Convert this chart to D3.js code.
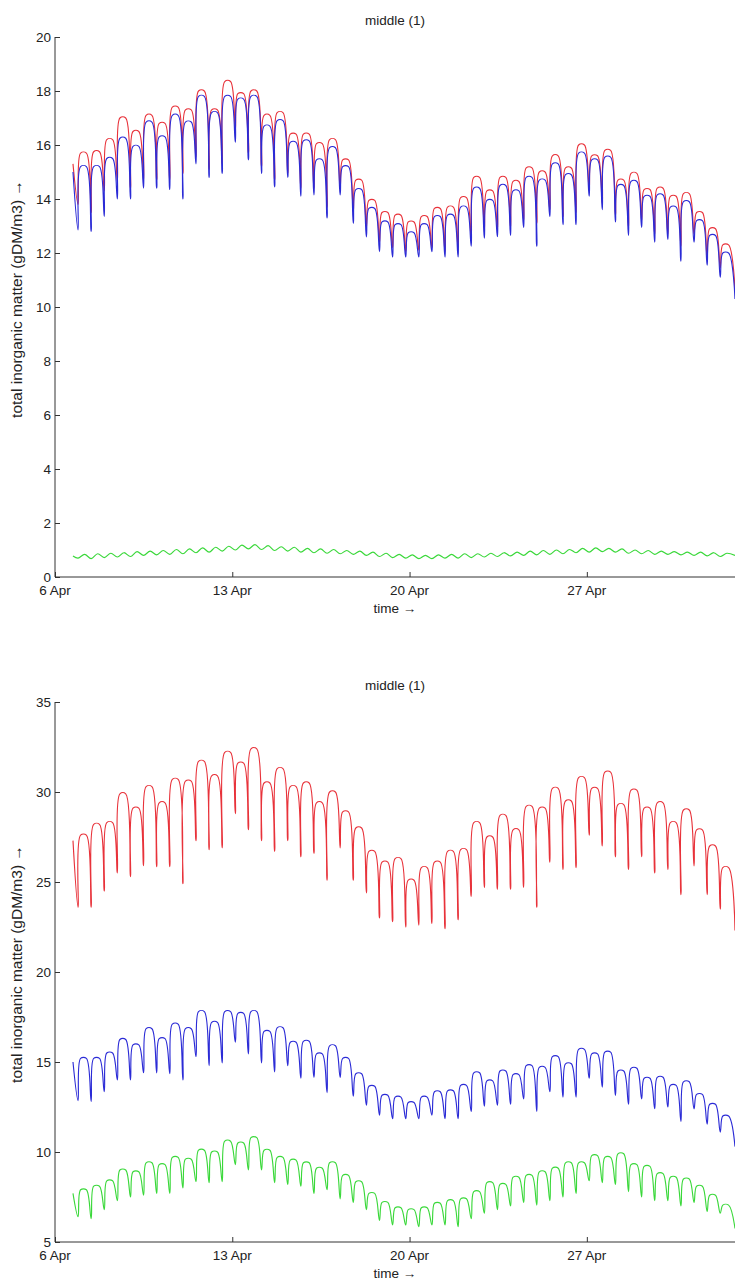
<!DOCTYPE html>
<html>
<head>
<meta charset="utf-8">
<script src="https://cdn.jsdelivr.net/npm/d3@7"></script>
<style>
  body { margin: 0; background: #fff; }
  svg { display: block; }
  text { font-family: "Liberation Sans", Arial, sans-serif; fill: #222; }
</style>
</head>
<body>
<div id="wall"></div>
<script>
// tick labels / categories
const xTickLabels = ["6 Apr", "13 Apr", "20 Apr", "27 Apr"];
const topTicks = [0, 2, 4, 6, 8, 10, 12, 14, 16, 18, 20];
const bottomTicks = [5, 10, 15, 20, 25, 30, 35];

// series: value at first sample, then low (ebb dip) and high of each tidal cycle, then value at right edge
const blueStart = 15.0, blueEnd = 10.3;
const blueLow = [12.85,12.8,13.35,14.0,14.0,14.4,14.4,14.35,14.0,15.3,14.8,14.95,16.1,15.45,14.95,14.45,14.8,14.1,14.15,13.3,
  14.15,13.1,12.6,12.05,11.85,11.85,11.85,12.05,11.85,11.85,12.25,12.55,12.6,12.65,12.95,12.25,13.35,13.05,13.05,14.1,
  13.6,13.15,12.65,12.95,12.4,12.5,11.7,12.4,11.55,11.1];
const blueHigh = [15.2,15.2,15.5,16.25,15.95,16.85,16.3,17.1,16.85,17.8,17.2,17.8,17.7,17.8,16.7,16.9,16.1,16.15,15.45,15.9,
  15.2,14.35,13.65,13.15,13.05,12.75,13.05,13.35,13.4,13.7,14.4,13.95,14.5,14.3,14.8,14.7,15.3,14.9,15.7,15.45,
  15.55,14.5,14.65,14.1,14.15,13.7,13.9,13.2,12.65,12.0];

const redTopStart = 15.3, redTopEnd = 10.6;
const redTopLow = [13.8,13.5,14.3,14.65,14.4,14.7,14.7,14.7,14.95,15.55,15.1,15.3,16.55,15.7,15.2,14.7,14.95,14.4,14.4,13.7,
  14.4,13.5,12.95,12.4,12.2,12.05,12.1,12.2,12.05,12.2,12.55,12.85,12.9,12.95,13.2,13.1,13.6,13.35,13.5,14.35,
  13.85,13.4,12.95,13.2,12.7,12.7,12.25,12.7,11.85,11.45];
const redTopHigh = [15.7,15.75,16.2,17.0,16.5,17.1,16.8,17.4,17.3,18.0,17.3,18.35,17.9,18.0,17.1,17.2,16.4,16.4,16.05,16.2,
  15.45,14.7,13.95,13.5,13.4,13.15,13.35,13.65,13.7,14.05,14.8,14.3,14.8,14.65,15.15,15.0,15.6,15.15,16.0,15.6,
  15.8,14.7,14.95,14.35,14.4,14.1,14.2,13.5,12.9,12.3];

const greenTopStart = 0.78, greenTopEnd = 0.8;
const greenTopLow = [0.70,0.68,0.72,0.74,0.76,0.80,0.82,0.84,0.86,0.90,0.92,0.96,1.00,1.04,1.02,0.98,0.96,0.92,0.90,0.88,
  0.86,0.84,0.80,0.76,0.72,0.70,0.68,0.68,0.70,0.70,0.72,0.74,0.76,0.78,0.80,0.82,0.84,0.86,0.90,0.92,
  0.94,0.92,0.88,0.86,0.84,0.84,0.82,0.80,0.78,0.76];
const greenTopHigh = [0.84,0.86,0.88,0.90,0.94,0.96,0.98,1.02,1.04,1.08,1.10,1.14,1.18,1.20,1.16,1.12,1.10,1.06,1.04,1.02,
  0.98,0.96,0.92,0.88,0.84,0.82,0.80,0.82,0.84,0.86,0.86,0.88,0.90,0.92,0.96,0.98,1.00,1.02,1.06,1.08,
  1.06,1.04,1.00,0.98,0.96,0.94,0.92,0.92,0.90,0.88];

const redBotStart = 27.3, redBotEnd = 22.3;
const redBotLow = [23.6,23.6,24.5,25.5,25.3,25.9,25.85,25.85,24.9,27.3,26.8,26.9,28.8,27.9,27.3,26.7,27.3,26.4,26.6,25.1,
  26.9,25.1,24.4,23.0,22.8,22.5,22.6,22.7,22.4,22.9,24.2,24.7,24.6,24.6,24.7,23.6,26.1,25.7,25.8,27.6,
  27.0,26.4,25.7,26.4,25.5,25.7,24.3,25.9,24.3,23.5];
const redBotHigh = [27.6,28.2,28.3,29.9,29.1,30.3,29.4,30.7,30.6,31.7,30.9,32.2,31.6,32.4,30.5,31.3,30.3,30.5,29.4,30.0,
  28.9,28.0,26.7,26.1,26.3,25.1,25.8,26.1,26.7,26.8,28.3,27.5,28.7,27.9,29.2,29.1,30.2,29.5,30.8,30.2,
  31.1,29.3,30.1,29.1,29.4,28.3,29.0,27.9,27.0,25.8];

const greenBotStart = 7.7, greenBotEnd = 5.75;
const greenBotLow = [6.4,6.3,6.8,7.3,7.5,7.6,7.7,7.7,8.0,8.35,8.3,8.35,9.3,9.0,9.0,8.3,8.2,8.1,7.7,7.9,
  7.4,7.2,6.8,6.2,5.95,5.95,5.85,5.95,5.95,5.85,6.3,6.6,6.8,7.0,7.2,7.05,7.3,7.5,7.7,8.4,
  8.3,8.2,7.8,7.5,7.3,7.3,7.0,7.2,6.7,6.6];
const greenBotHigh = [7.9,8.1,8.4,9.0,8.9,9.4,9.3,9.7,9.6,10.1,10.0,10.6,10.5,10.8,10.1,9.7,9.55,9.4,9.1,9.4,
  8.7,8.35,7.7,7.2,6.9,6.8,6.9,7.15,7.3,7.4,7.8,8.3,8.2,8.6,8.7,8.9,9.1,9.4,9.4,9.8,
  9.7,9.9,9.3,9.2,8.8,8.6,8.5,8.1,7.6,7.05];

// time grid (days after 6 Apr 00:00)
const firstSample = 0.71, firstDip = 0.91, tidePeriod = 0.5175, lastSample = 26.85;

const W = 735, H = 1282;
const left = 55, right = 735;
const fs = 13.5;
const t0 = Date.UTC(2007, 3, 6);
const day = 864e5;

const svg = d3.select("#wall").append("svg").attr("width", W).attr("height", H);

const x = d3.scaleUtc()
  .domain([new Date(t0), new Date(t0 + lastSample * day)])
  .range([left, right]);

function series(start, lows, highs, end, smooth) {
  const pts = [{t: firstSample, v: start}];
  lows.forEach((lo, i) => {
    const ti = firstDip + i * tidePeriod;
    pts.push({t: ti, v: lo});
    if (smooth) {
      pts.push({t: ti + 0.26, v: highs[i]});
    } else {
      pts.push({t: ti + 0.1, v: highs[i]});
      pts.push({t: ti + 0.33, v: highs[i]});
    }
  });
  pts.push({t: lastSample, v: end});
  return pts;
}

function panel(top, yDomain, ticks, lines) {
  const bottom = top + 540;
  const y = d3.scaleLinear().domain(yDomain).range([bottom, top]);
  const g = svg.append("g");

  const line = d3.line()
    .x(d => x(new Date(t0 + d.t * day)))
    .y(d => y(d.v))
    .curve(d3.curveCatmullRom.alpha(0.5));

  lines.forEach(l => {
    g.append("path")
      .datum(l.data)
      .attr("fill", "none")
      .attr("stroke", l.color)
      .attr("stroke-width", 1.15)
      .attr("stroke-linejoin", "round")
      .attr("d", line);
  });

  // y axis, ticks inward
  const ya = g.append("g").attr("transform", `translate(${left},0)`)
    .call(d3.axisRight(y).tickValues(ticks).tickSize(5).tickFormat(""));
  ya.select(".domain").attr("d", `M0,${top}V${bottom}`).attr("stroke", "#333");
  ya.selectAll(".tick line").attr("stroke", "#333");
  ticks.forEach(t => {
    g.append("text").attr("x", left - 4).attr("y", y(t) + 5)
      .attr("text-anchor", "end").attr("font-size", fs).text(t);
  });

  // x axis, ticks inward
  const xticks = xTickLabels.map((s, i) => new Date(t0 + i * 7 * day));
  const xa = g.append("g").attr("transform", `translate(0,${bottom})`)
    .call(d3.axisTop(x).tickValues(xticks).tickSize(5).tickFormat(""));
  xa.select(".domain").attr("d", `M${left},0H${right}`).attr("stroke", "#333");
  xa.selectAll(".tick line").attr("stroke", "#333");
  xticks.forEach((d, i) => {
    g.append("text").attr("x", x(d)).attr("y", bottom + 18)
      .attr("text-anchor", "middle").attr("font-size", fs).text(xTickLabels[i]);
  });

  g.append("text").attr("x", (left + right) / 2).attr("y", bottom + 36)
    .attr("text-anchor", "middle").attr("font-size", fs).text("time \u2192");
  g.append("text").attr("x", (left + right) / 2).attr("y", top - 12)
    .attr("text-anchor", "middle").attr("font-size", fs).text("middle (1)");
  g.append("text")
    .attr("transform", `translate(22,${(top + bottom) / 2 - 8}) rotate(-90)`)
    .attr("text-anchor", "middle").attr("font-size", 15.5)
    .text("total inorganic matter (gDM/m3) \u2192");
}

const blue = series(blueStart, blueLow, blueHigh, blueEnd, false);

panel(37, [0, 20], topTicks, [
  {color: "#e8323a", data: series(redTopStart, redTopLow, redTopHigh, redTopEnd, false)},
  {color: "#2b2bd6", data: blue},
  {color: "#3ad83a", data: series(greenTopStart, greenTopLow, greenTopHigh, greenTopEnd, true)}
]);

panel(702, [5, 35], bottomTicks, [
  {color: "#e8323a", data: series(redBotStart, redBotLow, redBotHigh, redBotEnd, false)},
  {color: "#2b2bd6", data: blue},
  {color: "#3ad83a", data: series(greenBotStart, greenBotLow, greenBotHigh, greenBotEnd, false)}
]);
</script>
</body>
</html>
